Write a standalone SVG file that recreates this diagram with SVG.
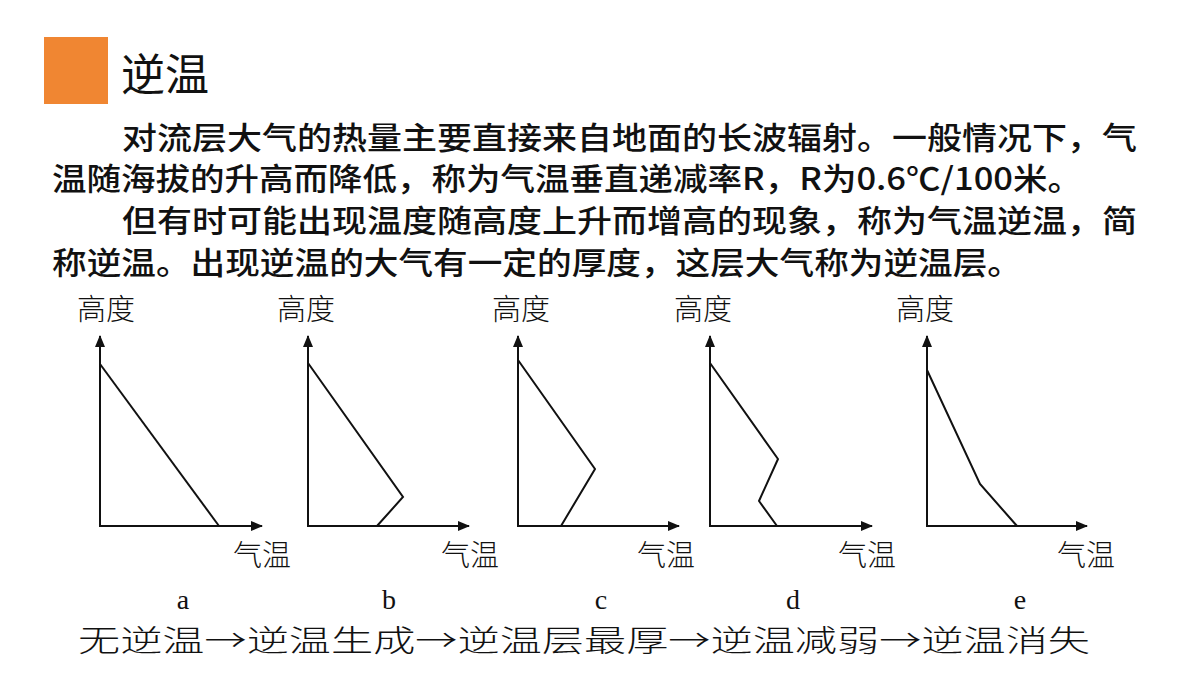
<svg xmlns="http://www.w3.org/2000/svg" width="1200" height="675" viewBox="0 0 1200 675">
<style>
.title{font-family:"Noto Sans CJK SC","Noto Sans",sans-serif;font-size:44px;fill:#111;}
.para{font-family:"Noto Sans CJK SC","Noto Sans",sans-serif;font-size:31px;font-weight:500;fill:#111;}
.lab{font-family:"Noto Sans CJK SC",sans-serif;font-size:29px;font-weight:300;fill:#111;}
.let{font-family:"Liberation Serif",serif;font-size:28px;fill:#111;text-anchor:middle;}
.seq{font-family:"Noto Sans CJK SC",sans-serif;font-size:30px;font-weight:300;fill:#111;}
.ax{fill:none;stroke:#111;stroke-width:2;marker-start:url(#ah);marker-end:url(#ah);}
.cur{fill:none;stroke:#111;stroke-width:2;stroke-linejoin:miter;}
</style>
<defs>
<marker id="ah" markerUnits="userSpaceOnUse" markerWidth="12" markerHeight="10" refX="11" refY="5" orient="auto-start-reverse">
<path d="M0,0 L12,5 L0,10 z" fill="#111"/>
</marker>
</defs>
<rect width="1200" height="675" fill="#fff"/>
<g id="header">
<rect x="44" y="37" width="64" height="67" fill="#F08632"/>
<text class="title" x="121" y="91">逆温</text>
</g>
<g id="paragraph">
<text class="para" x="122" y="149" textLength="1015" lengthAdjust="spacingAndGlyphs">对流层大气的热量主要直接来自地面的长波辐射。一般情况下，气</text>
<text class="para" x="52" y="190" textLength="1030" lengthAdjust="spacingAndGlyphs">温随海拔的升高而降低，称为气温垂直递减率R，R为0.6℃/100米。</text>
<text class="para" x="122" y="232" textLength="1015" lengthAdjust="spacingAndGlyphs">但有时可能出现温度随高度上升而增高的现象，称为气温逆温，简</text>
<text class="para" x="52" y="274" textLength="970" lengthAdjust="spacingAndGlyphs">称逆温。出现逆温的大气有一定的厚度，这层大气称为逆温层。</text>
</g>
<g id="chart-a">
<text class="lab" x="77" y="320">高度</text>
<path class="ax" d="M100,336 L100,526 L262,526"/>
<path class="cur" d="M100,364 L219,526"/>
<text class="lab" x="233" y="566">气温</text>
<text class="let" x="183" y="609">a</text>
</g>
<g id="chart-b">
<text class="lab" x="277" y="320">高度</text>
<path class="ax" d="M308,336 L308,526 L469,526"/>
<path class="cur" d="M308,363 L403,497 L377,526"/>
<text class="lab" x="441" y="566">气温</text>
<text class="let" x="389" y="609">b</text>
</g>
<g id="chart-c">
<text class="lab" x="492" y="320">高度</text>
<path class="ax" d="M518,336 L518,526 L679,526"/>
<path class="cur" d="M518,360 L595,469 L561,526"/>
<text class="lab" x="637" y="566">气温</text>
<text class="let" x="601" y="609">c</text>
</g>
<g id="chart-d">
<text class="lab" x="674" y="320">高度</text>
<path class="ax" d="M710,336 L710,526 L872,526"/>
<path class="cur" d="M710,363 L778,459 L759,501 L777,526"/>
<text class="lab" x="838" y="566">气温</text>
<text class="let" x="793" y="609">d</text>
</g>
<g id="chart-e">
<text class="lab" x="896" y="320">高度</text>
<path class="ax" d="M927,336 L927,526 L1087,526"/>
<path class="cur" d="M927,370 L980,484 L1017,526"/>
<text class="lab" x="1057" y="566">气温</text>
<text class="let" x="1020" y="609">e</text>
</g>
<g id="sequence">
<text class="seq" x="78" y="651" textLength="1012" lengthAdjust="spacingAndGlyphs">无逆温→逆温生成→逆温层最厚→逆温减弱→逆温消失</text>
</g>
</svg>
